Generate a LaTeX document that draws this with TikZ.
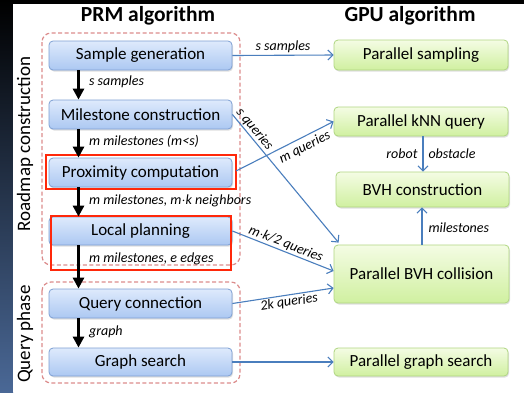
\documentclass[tikz,border=0pt]{standalone}
\usepackage{fontspec}
\setmainfont{Carlito}
\usetikzlibrary{arrows.meta,shadows,calc}
\definecolor{bluebd}{RGB}{126,160,212}
\definecolor{bluetop}{RGB}{222,234,252}
\definecolor{bluebot}{RGB}{172,200,242}
\definecolor{greenbd}{RGB}{176,214,130}
\definecolor{greentop}{RGB}{244,252,228}
\definecolor{greenbot}{RGB}{208,240,160}
\definecolor{linkblue}{RGB}{74,126,189}
\definecolor{phasered}{RGB}{220,140,140}
\definecolor{hlred}{RGB}{255,40,10}
\definecolor{slideblue}{RGB}{74,104,150}
\begin{document}
\begin{tikzpicture}[x=1pt,y=-1pt,
  boxbase/.style={line width=0.8pt, rounded corners=4pt, inner sep=0pt,
    font=\fontsize{17}{20}\selectfont,
    drop shadow={shadow xshift=1pt, shadow yshift=-1.5pt, opacity=0.25}},
  pbox/.style={boxbase, draw=bluebd, top color=bluetop, bottom color=bluebot,
    minimum width=183pt, minimum height=29pt},
  gbox/.style={boxbase, draw=greenbd, top color=greentop, bottom color=greenbot,
    minimum width=174pt, minimum height=29pt},
  lab/.style={font=\fontsize{14}{16}\selectfont\itshape, inner sep=2pt},
  blkarrow/.style={line width=3.2pt, -{Triangle[length=11pt,width=11pt]}},
  bluearrow/.style={draw=linkblue, line width=1.1pt, -{Straight Barb[length=5pt,width=10pt]}},
  phasebox/.style={draw=phasered, dashed, dash pattern=on 4pt off 2.5pt, line width=1.2pt, rounded corners=9pt},
  hlbox/.style={draw=hlred, line width=1.4pt},
  titlefont/.style={font=\fontsize{21.5}{24}\selectfont\bfseries},
  sidefont/.style={font=\fontsize{19}{22}\selectfont}
]
\useasboundingbox (0,0) rectangle (524,392);
% background
\fill[black] (0,0) rectangle (524,392);
\shade[top color=black, middle color=black, bottom color=slideblue] (0,0) rectangle (13,392);
\fill[white] (13,4) rectangle (524,392);

% titles
\node[titlefont] (t1) at (148,16) {PRM algorithm};
\node[titlefont] (t2) at (410,16) {GPU algorithm};

% phase boxes
\draw[phasebox] (42,33) rectangle (240,265);
\draw[phasebox] (42,282) rectangle (240,383);
\node[sidefont, rotate=90] (side1) at (25,144) {Roadmap construction};
\node[sidefont, rotate=90] (side2) at (25,334) {Query phase};

% left column
\node[pbox] (sg) at (140.5,55.5) {Sample generation};
\node[pbox] (mc) at (140.5,114.5) {Milestone construction};
\node[pbox] (pc) at (140.5,172.5) {Proximity computation};
\node[pbox, minimum height=28pt] (lp) at (140.5,231) {Local planning};
\node[pbox] (qc) at (140.5,303.5) {Query connection};
\node[pbox, minimum height=28pt] (gs) at (140.5,362) {Graph search};

% highlight boxes
\draw[hlbox] (46,155) rectangle (236,189);
\coordinate (pcr) at (236,171);
\draw[hlbox] (51,216) rectangle (231,270);

% right column
\node[gbox, minimum height=30pt] (ps) at (421,55) {Parallel sampling};
\node[gbox] (knn) at (421,121.5) {Parallel kNN query};
\node[gbox, minimum width=173pt, minimum height=35pt] (bvhc) at (422.5,189.5) {BVH construction};
\node[gbox, minimum width=175pt, minimum height=58pt] (bvhcol) at (421.5,274) {Parallel BVH collision};
\node[gbox, minimum height=28pt] (pgs) at (421,362) {Parallel graph search};

% black arrows
\draw[blkarrow] ([xshift=-62pt]sg.south) -- node[lab, right=7pt, pos=0.4] {s samples} ([xshift=-62pt]mc.north);
\draw[blkarrow] ([xshift=-62pt]mc.south) -- node[lab, right=7pt, pos=0.42] {m milestones (m<s)} ([xshift=-62pt]pc.north);
\draw[blkarrow] ([xshift=-62pt]pc.south) -- node[lab, right=7pt, pos=0.47] {m milestones, m$\cdot$k neighbors} ([xshift=-62pt]lp.north);
\draw[blkarrow] ([xshift=-62pt]lp.south) -- node[lab, right=7pt, pos=0.3] {m milestones, e edges} ([xshift=-62pt]qc.north);
\draw[blkarrow] ([xshift=-62pt]qc.south) -- node[lab, right=7pt, pos=0.45] {graph} ([xshift=-62pt]gs.north);

% blue arrows
\draw[bluearrow] (sg.east) -- node[lab, above=0pt, pos=0.5] {s samples} (ps.west);
\draw[bluearrow] (mc.east) -- node[lab, sloped, above=-1pt, pos=0.155] {s queries} ($(bvhcol.north west)+(5,-2)$);
\draw[bluearrow] (pcr) -- node[lab, sloped, below=1.5pt, pos=0.66] {m queries} (knn.west);
\draw[bluearrow] (lp.east) -- node[lab, sloped, above=-1pt, pos=0.5] {m$\cdot$k/2 queries} ($(bvhcol.west)+(0,-3)$);
\draw[bluearrow] (qc.east) -- node[lab, sloped, below=-1pt, pos=0.55] {2k queries} ($(bvhcol.west)+(0,14)$);
\draw[bluearrow] (gs.east) -- (pgs.west);
\draw[bluearrow] ([xshift=2pt]knn.south) -- node[lab, left=3pt] {robot} node[lab, right=3pt] {obstacle} ([xshift=0.5pt]bvhc.north);
\draw[bluearrow] ([xshift=0.5pt]bvhcol.north) -- node[lab, right=4pt, pos=0.45] {milestones} ([xshift=-0.5pt]bvhc.south);
\end{tikzpicture}
\end{document}
